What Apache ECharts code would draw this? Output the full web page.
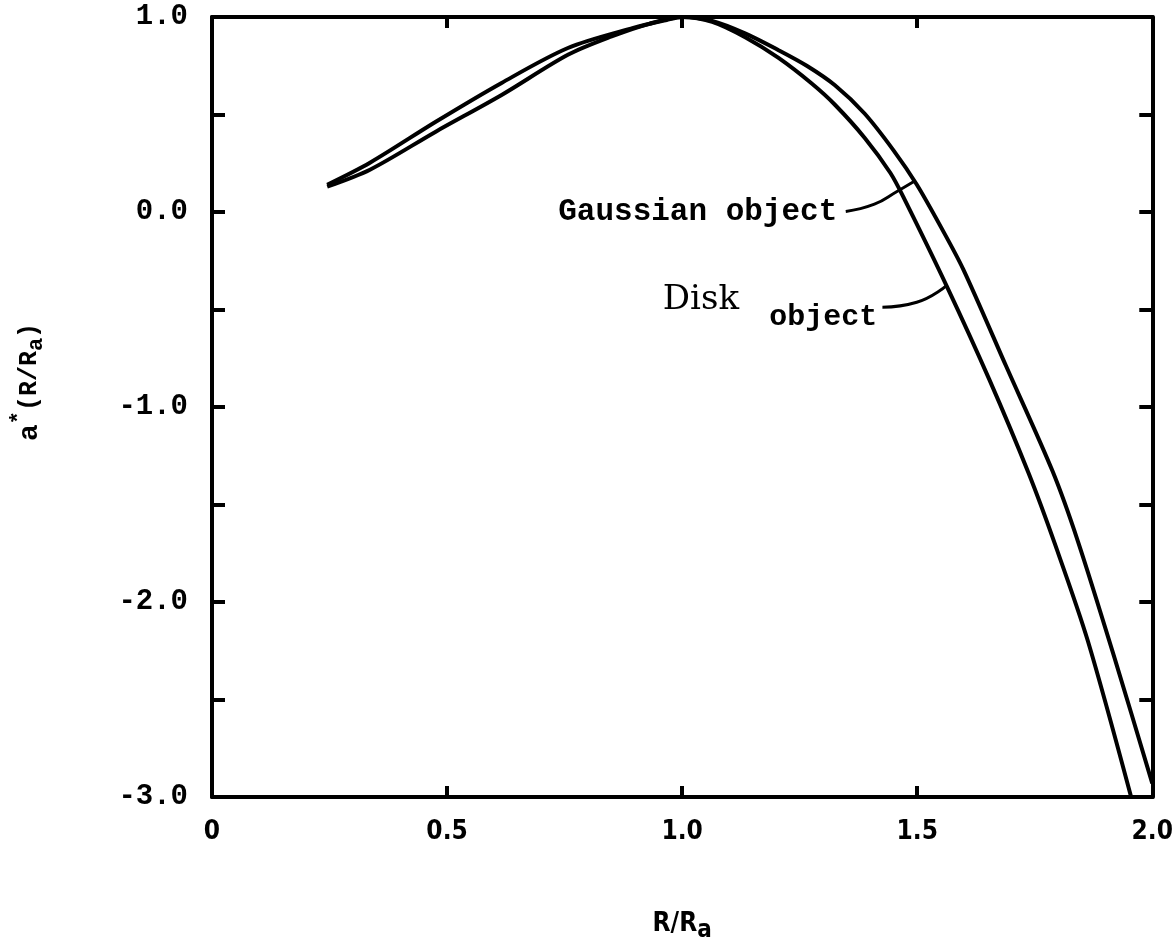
<!DOCTYPE html>
<html>
<head>
<meta charset="utf-8">
<script src="https://cdn.jsdelivr.net/npm/echarts@6/dist/echarts.min.js"></script>
<style>
html,body{margin:0;padding:0;background:#fff;}
#chart{width:1176px;height:948px;}
</style>
</head>
<body>
<div id="chart"></div>
<script>
// ---- Data ----
const gaussX = [0.245, 0.336, 0.476, 0.616, 0.757, 0.85, 0.93, 1.0, 1.064, 1.135, 1.205, 1.265, 1.325, 1.388, 1.45, 1.499, 1.55, 1.598, 1.689, 1.788, 1.842, 1.92, 2.0];
const gaussY = [0.13, 0.217, 0.412, 0.60, 0.806, 0.90, 0.965, 1.0, 0.98, 0.915, 0.83, 0.75, 0.65, 0.505, 0.315, 0.141, -0.075, -0.294, -0.79, -1.33, -1.69, -2.289, -2.93];
const diskX = [0.245, 0.336, 0.476, 0.616, 0.757, 0.896, 0.967, 1.0, 1.064, 1.135, 1.205, 1.275, 1.325, 1.388, 1.443, 1.472, 1.563, 1.653, 1.737, 1.794, 1.863, 1.955];
const diskY = [0.14, 0.253, 0.463, 0.662, 0.841, 0.944, 0.985, 1.0, 0.975, 0.895, 0.79, 0.66, 0.55, 0.381, 0.2, 0.07, -0.381, -0.857, -1.34, -1.71, -2.2, -3.0];

const xMin = 0, xMax = 2.0, xStep = 0.5;
const yMin = -3.0, yMax = 1.0, yStep = 0.5;

// Annotation anchors (data units)
const gaussLabelAnchor = [1.33, 0.0];
const gaussLeaderX = [1.348, 1.409, 1.457, 1.493];
const gaussLeaderY = [0.003, 0.04, 0.105, 0.156];
const diskWordAnchor = [1.04, -0.45];
const diskObjAnchor = [1.415, -0.54];
const diskLeaderX = [1.426, 1.499, 1.563];
const diskLeaderY = [-0.488, -0.463, -0.376];

const pairs = (xs, ys) => xs.map((x, i) => [x, ys[i]]);

const chart = echarts.init(document.getElementById('chart'), null, {renderer: 'canvas'});

const axisLineStyle = {color: '#000', width: 4};
const tickStyle = {color: '#000', width: 4};

const option = {
  backgroundColor: '#fff',
  animation: false,
  grid: {left: 206, right: 17, top: 17, bottom: 149, containLabel: false},
  xAxis: [
    {
      type: 'value', min: xMin, max: xMax, interval: xStep, position: 'bottom',
      axisLine: {show: true, onZero: false, lineStyle: axisLineStyle},
      axisTick: {show: true, inside: true, length: 11, lineStyle: tickStyle},
      splitLine: {show: false},
      axisLabel: {
        margin: 22, color: '#000', fontFamily: 'DejaVu Sans Condensed', fontWeight: 'bold', fontSize: 26,
        formatter: v => (v === 0 ? '0' : v.toFixed(1))
      },
      name: '{n|R/R}{s|a}', nameLocation: 'middle', nameGap: 108,
      nameTextStyle: {
        rich: {
          n: {fontFamily: 'DejaVu Sans Condensed', fontWeight: 'bold', fontSize: 26, color: '#000'},
          s: {fontFamily: 'DejaVu Sans Condensed', fontWeight: 'bold', fontSize: 24, color: '#000', padding: [14, 0, 0, 0]}
        }
      }
    },
    {
      type: 'value', min: xMin, max: xMax, interval: xStep, position: 'top',
      axisLine: {show: true, onZero: false, lineStyle: axisLineStyle},
      axisTick: {show: true, inside: true, length: 11, lineStyle: tickStyle},
      axisLabel: {show: false}, splitLine: {show: false}
    }
  ],
  yAxis: [
    {
      type: 'value', min: yMin, max: yMax, interval: yStep, position: 'left',
      axisLine: {show: true, onZero: false, lineStyle: axisLineStyle},
      axisTick: {show: true, inside: true, length: 13, lineStyle: tickStyle},
      splitLine: {show: false},
      axisLabel: {
        margin: 24, color: '#000', fontFamily: 'Liberation Mono', fontWeight: 'bold', fontSize: 29,
        formatter: v => (Math.abs(v - Math.round(v)) < 1e-9 ? v.toFixed(1) : '')
      },
      name: '{a|a}{st|*}{n|(R/R}{s|a}{n|)}', nameLocation: 'middle', nameGap: 160, nameRotate: 90,
      nameTextStyle: {
        padding: [0, 0, 0, 50],
        rich: {
          a: {fontFamily: 'Liberation Mono', fontWeight: 'bold', fontSize: 28, color: '#000'},
          st: {fontFamily: 'Liberation Mono', fontWeight: 'bold', fontSize: 22, color: '#000', padding: [0, 0, 22, 0]},
          n: {fontFamily: 'Liberation Mono', fontWeight: 'bold', fontSize: 25, color: '#000'},
          s: {fontFamily: 'Liberation Mono', fontWeight: 'bold', fontSize: 22, color: '#000', padding: [12, 0, 0, 0]}
        }
      }
    },
    {
      type: 'value', min: yMin, max: yMax, interval: yStep, position: 'right',
      axisLine: {show: true, onZero: false, lineStyle: axisLineStyle},
      axisTick: {show: true, inside: true, length: 13, lineStyle: tickStyle},
      axisLabel: {show: false}, splitLine: {show: false}
    }
  ],
  series: [
    {
      name: 'Gaussian object', type: 'line', xAxisIndex: 0, yAxisIndex: 0,
      data: pairs(gaussX, gaussY), smooth: 0.3, showSymbol: false, clip: true,
      lineStyle: {color: '#000', width: 4}, silent: true
    },
    {
      name: 'Disk object', type: 'line', xAxisIndex: 0, yAxisIndex: 0,
      data: pairs(diskX, diskY), smooth: 0.3, showSymbol: false, clip: true,
      lineStyle: {color: '#000', width: 4}, silent: true
    },
    {
      name: 'gaussLeader', type: 'line', data: pairs(gaussLeaderX, gaussLeaderY), smooth: 0.5,
      showSymbol: false, lineStyle: {color: '#000', width: 3}, silent: true
    },
    {
      name: 'diskLeader', type: 'line', data: pairs(diskLeaderX, diskLeaderY), smooth: 0.5,
      showSymbol: false, lineStyle: {color: '#000', width: 3}, silent: true
    }
  ]
};

chart.setOption(option);

const gp = chart.convertToPixel({gridIndex: 0}, gaussLabelAnchor);
const dw = chart.convertToPixel({gridIndex: 0}, diskWordAnchor);
const dob = chart.convertToPixel({gridIndex: 0}, diskObjAnchor);

chart.setOption({
  graphic: [
    {
      type: 'text', x: gp[0], y: gp[1], silent: true,
      style: {text: 'Gaussian object', fill: '#000', font: 'bold 31px "Liberation Mono"', textAlign: 'right', textVerticalAlign: 'middle'}
    },
    {
      type: 'text', x: dw[0], y: dw[1], silent: true,
      style: {text: 'Disk', fill: '#000', font: '34px "DejaVu Serif"', textAlign: 'center', textVerticalAlign: 'middle'}
    },
    {
      type: 'text', x: dob[0], y: dob[1], silent: true,
      style: {text: 'object', fill: '#000', font: 'bold 30px "Liberation Mono"', textAlign: 'right', textVerticalAlign: 'middle'}
    }
  ]
});
</script>
</body>
</html>
